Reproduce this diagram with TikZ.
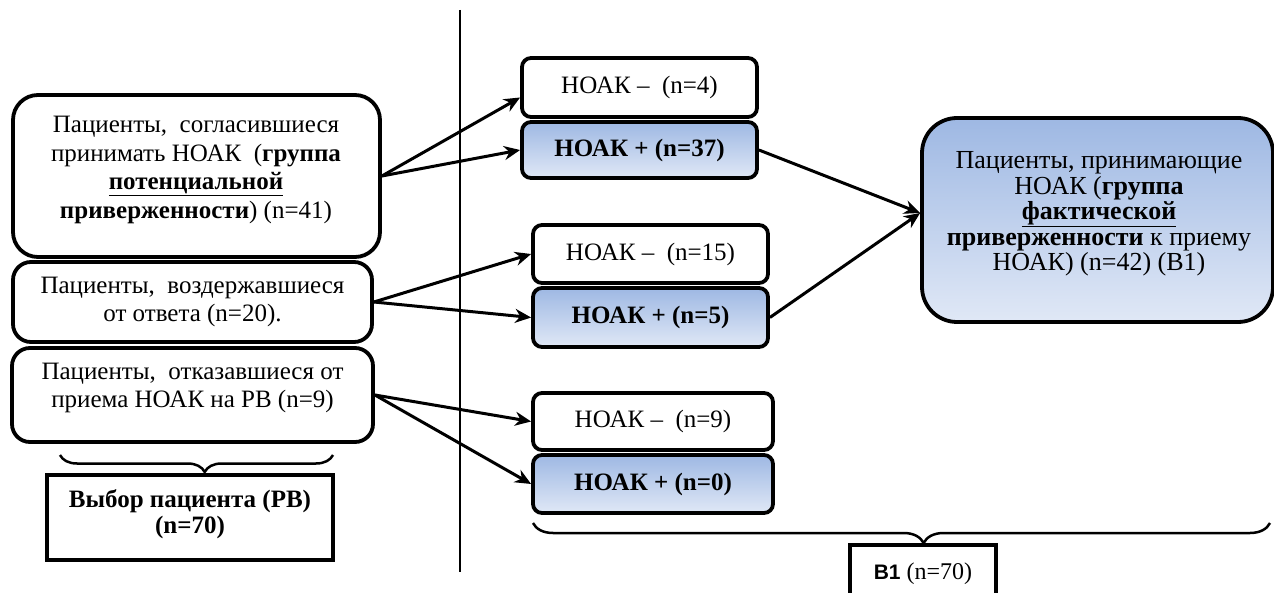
\documentclass[tikz,border=0pt]{standalone}
\usepackage{fontspec}
\setmainfont{Liberation Serif}
\newfontfamily\sansb{Liberation Sans}
\usetikzlibrary{arrows.meta,decorations.pathreplacing,calc}
\definecolor{btop}{RGB}{158,184,227}
\definecolor{bbot}{RGB}{224,232,246}
\begin{document}
\begin{tikzpicture}[x=1pt,y=-1pt,
  txt/.style={font=\fontsize{25}{28.5}\selectfont, align=center, inner sep=0pt},
  rbox/.style={draw, line width=3.8pt, rounded corners=#1, inner sep=0pt},
  whitebox/.style={rbox=9pt, fill=white, font=\fontsize{25}{28}\selectfont},
  bluebox/.style={rbox=9pt, top color=btop, bottom color=bbot, font=\fontsize{25}{28}\selectfont\bfseries},
  arr/.style={line width=3pt, -{Stealth[length=16pt,width=14pt]}},
  brc/.style={decorate, line width=2.5pt, decoration={brace, amplitude=#1, aspect=0.47}}
]
\useasboundingbox (0,0) rectangle (1274,593);
\fill[white] (0,0) rectangle (1274,593);

% vertical divider
\coordinate (vtop) at (460,10);
\coordinate (vbot) at (460,572);
\draw[line width=1.5pt] (vtop) -- (vbot);

% left boxes
\node[rbox=25pt, minimum width=367pt, minimum height=162pt] (A) at (196.5,176) {};
\node[txt] (Atxt) at (196,170) {Пациенты,\ \ согласившиеся\\ принимать НОАК\ \ (\textbf{группа}\\ \textbf{\underline{потенциальной}}\\ \textbf{приверженности}) (n=41)};

\node[rbox=18pt, minimum width=359pt, minimum height=80pt] (B) at (192.5,302) {};
\node[txt] (Btxt) at (192.5,302) {Пациенты,\ \ воздержавшиеся\\ от ответа (n=20).};

\node[rbox=18pt, minimum width=361pt, minimum height=94pt] (C) at (192.5,395) {};
\node[txt] (Ctxt) at (192.5,388) {Пациенты,\ \ отказавшиеся от\\ приема НОАК на РВ (n=9)};

\draw[brc=17pt] (333,455) -- (60,455);

\node[draw, line width=3.8pt, minimum width=286pt, minimum height=85pt, inner sep=0pt] (RB) at (190,517.5) {};
\node[txt, font=\fontsize{25}{26}\selectfont\bfseries] (RBtxt) at (190,514) {Выбор пациента (РВ)\\ (n=70)};

% middle boxes
\node[whitebox, minimum width=235pt, minimum height=59pt] (n4) at (639.5,87.5) {НОАК –\ \ (n=4)};
\node[bluebox, minimum width=235pt, minimum height=56pt] (n37) at (639.5,150) {НОАК + (n=37)};
\node[whitebox, minimum width=235pt, minimum height=58pt] (n15) at (650.5,254) {НОАК –\ \ (n=15)};
\node[bluebox, minimum width=235pt, minimum height=59pt] (n5) at (650.5,317.5) {НОАК + (n=5)};
\node[whitebox, minimum width=240pt, minimum height=57pt] (n9) at (653,421.5) {НОАК –\ \ (n=9)};
\node[bluebox, minimum width=240pt, minimum height=58pt] (n0) at (653,484) {НОАК + (n=0)};

% big right box
\node[rbox=35pt, top color=btop, bottom color=bbot, minimum width=351pt, minimum height=204pt] (big) at (1097.5,220) {};
\node[txt, font=\fontsize{26}{25.5}\selectfont] (bigtxt) at (1099,214) {Пациенты, принимающие\\ НОАК (\textbf{группа}\\ \textbf{\underline{фактической}}\\ \textbf{приверженности} к приему\\ НОАК) (n=42) (В1)};

% bottom brace and B1 box
\draw[brc=20pt] (1270,523) -- (533,523);
\node[draw, line width=3.8pt, minimum width=146pt, minimum height=62pt, inner sep=0pt] (B1) at (923,576) {};
\node[txt, font=\fontsize{24}{26}\selectfont] (B1txt) at (923,574) {{\sansb\bfseries\fontsize{21}{26}\selectfont В1} (n=70)};

% connectors
\draw[arr] (A.east) -- ([yshift=-10pt]n4.west);
\draw[arr] (A.east) -- (n37.west);
\draw[arr] (B.east) -- (n15.west);
\draw[arr] (B.east) -- (n5.west);
\draw[arr] (C.east) -- (n9.west);
\draw[arr] (C.east) -- (n0.west);
\coordinate (tip) at ($(big.west)+(0,-7)$);
\draw[arr] (n37.east) -- (tip);
\draw[arr] (n5.east) -- (tip);
\end{tikzpicture}
\end{document}
